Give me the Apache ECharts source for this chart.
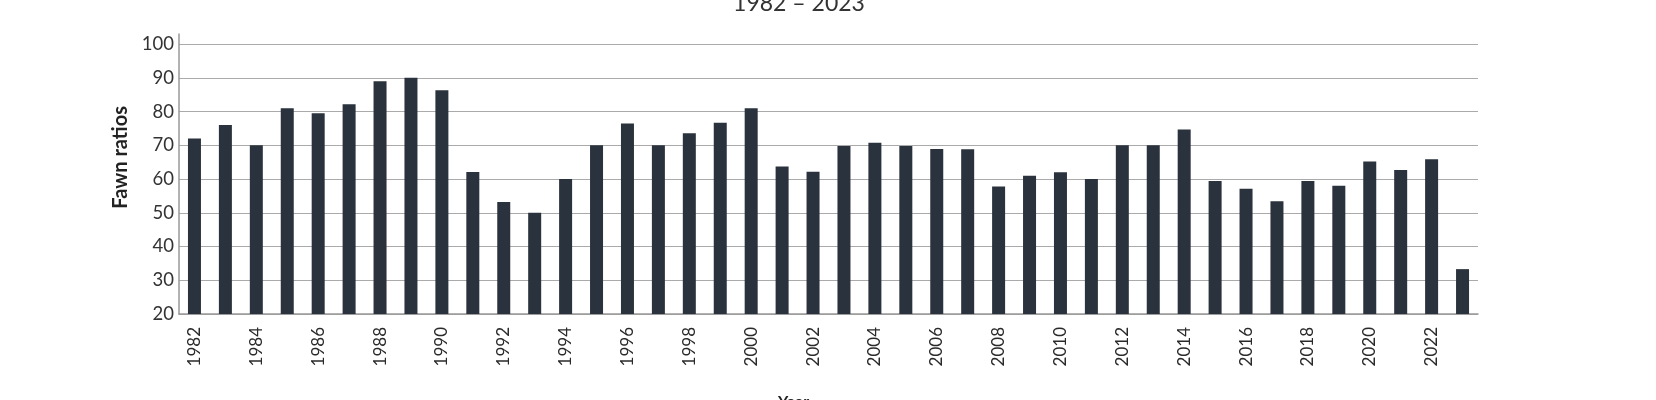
<!DOCTYPE html>
<html>
<head>
<meta charset="utf-8">
<script src="https://cdn.jsdelivr.net/npm/echarts@6/dist/echarts.min.js"></script>
<style>
html,body{margin:0;padding:0;background:#fff;}
#chart{width:1656px;height:400px;}
</style>
</head>
<body>
<div id="chart"></div>
<script>
const years = ['1982','1983','1984','1985','1986','1987','1988','1989','1990','1991','1992','1993','1994','1995','1996','1997','1998','1999','2000','2001','2002','2003','2004','2005','2006','2007','2008','2009','2010','2011','2012','2013','2014','2015','2016','2017','2018','2019','2020','2021','2022','2023'];
const fawnRatios = [72,76,70,81,79.5,82.2,89,90,86.3,62.1,53.2,50,60,70,76.5,70,73.6,76.7,81,63.7,62.2,69.8,70.8,69.8,68.9,68.8,57.8,61,62,60,70,70,74.7,59.4,57.1,53.4,59.4,58,65.2,62.7,65.9,33.3];
const titleText = '1982 – 2023';
const yName = 'Fawn ratios';
const xName = 'Year';

const chart = echarts.init(document.getElementById('chart'));
chart.setOption({
  animation: false,
  backgroundColor: '#fff',
  title: {
    text: titleText,
    left: 794,
    top: -13,
    textAlign: 'center',
    textStyle: {fontFamily: 'Lato', fontSize: 23, fontWeight: 'normal', color: '#333'}
  },
  grid: {left: 179, right: 178, top: 34, bottom: 86, containLabel: false, outerBoundsMode: 'none'},
  xAxis: {
    type: 'category',
    data: years,
    name: xName,
    nameLocation: 'middle',
    nameGap: 80,
    nameTextStyle: {fontFamily: 'Lato', fontSize: 16, fontWeight: 'bold', color: '#222', padding: [0, 70, 0, 0], verticalAlign: 'top'},
    axisLine: {lineStyle: {color: '#999', width: 1.5}},
    axisTick: {show: false},
    axisLabel: {
      interval: 1,
      rotate: 90,
      margin: 13,
      fontFamily: 'Lato',
      fontSize: 17,
      color: '#2a2a2a'
    }
  },
  yAxis: {
    type: 'value',
    min: 20,
    max: 103,
    interval: 10,
    axisLine: {show: true, lineStyle: {color: '#999', width: 1.5}},
    axisTick: {show: false},
    axisLabel: {showMaxLabel: false, margin: 5, fontFamily: 'Lato', fontSize: 18.5, color: '#333'},
    splitLine: {showMaxLine: false, lineStyle: {color: '#aaa', width: 1.2}}
  },
  graphic: [{
    type: 'text',
    left: 111,
    top: 106,
    rotation: Math.PI / 2,
    style: {text: yName, fontFamily: 'Lato', fontSize: 20, fontWeight: 'bold', fill: '#222'}
  }],
  series: [{
    type: 'bar',
    data: fawnRatios,
    barWidth: 13,
    itemStyle: {color: '#2a323d'}
  }]
});
</script>
</body>
</html>
